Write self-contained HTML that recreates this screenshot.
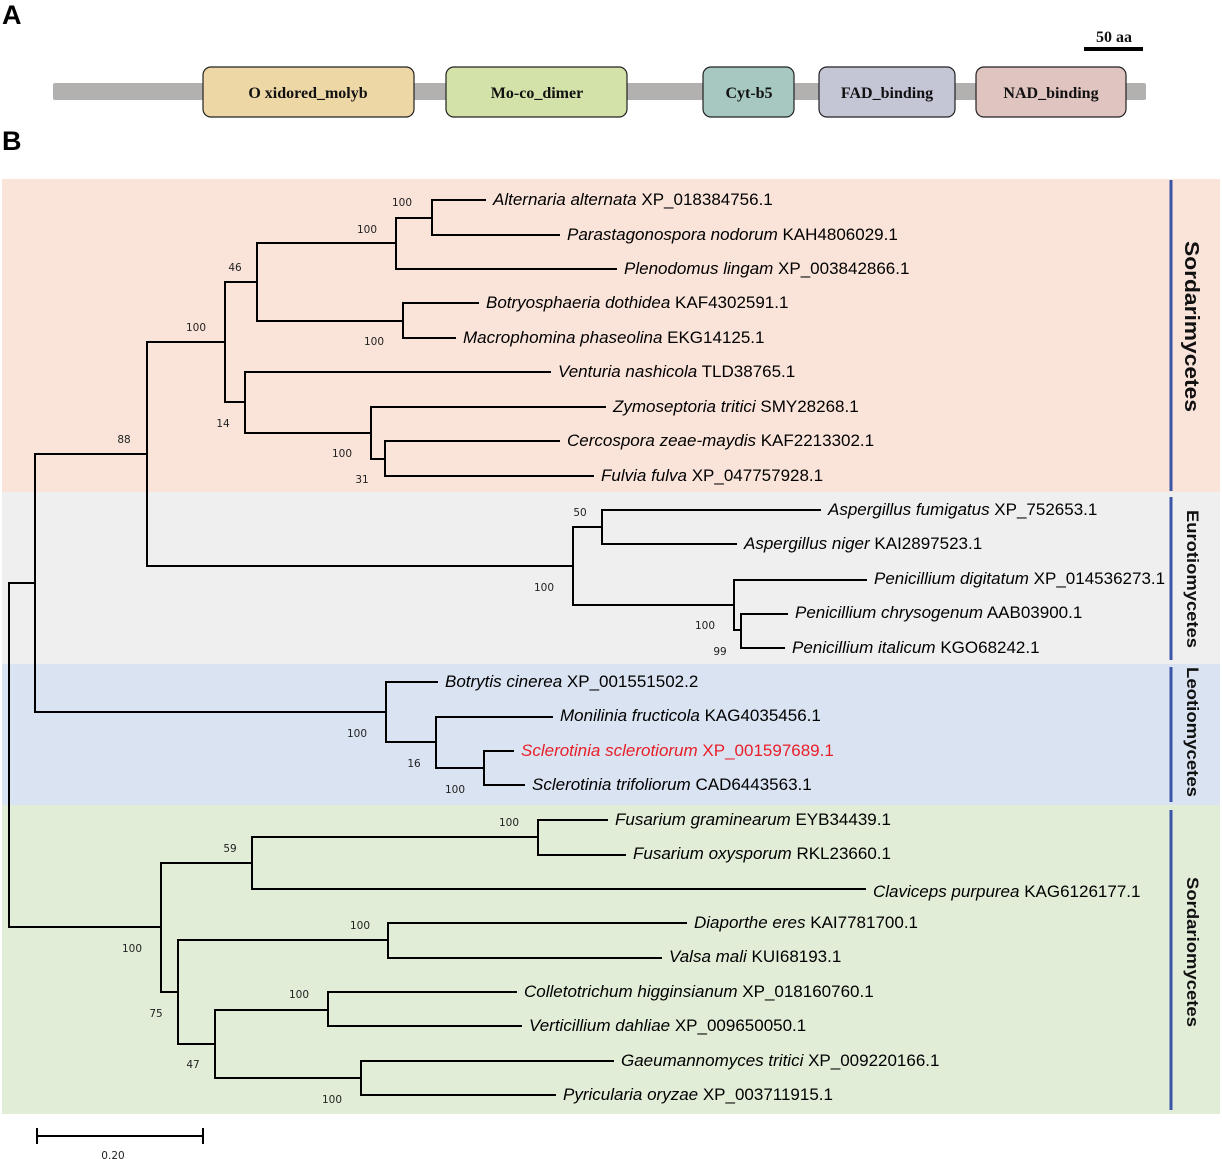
<!DOCTYPE html>
<html><head><meta charset="utf-8"><style>
html,body{margin:0;padding:0;background:#fff;}
svg{display:block;}
.lf{font-family:"Liberation Sans",sans-serif;font-size:17px;fill:#000;}
.bs{font-family:"DejaVu Sans","Liberation Sans",sans-serif;font-size:10.5px;fill:#222;}
.dm{font-family:"Liberation Serif",serif;font-weight:bold;font-size:16px;fill:#111;}
.cl{font-family:"Liberation Sans",sans-serif;font-weight:bold;fill:#111;}
</style></head><body>
<svg width="1222" height="1159" viewBox="0 0 1222 1159" xmlns="http://www.w3.org/2000/svg">
<text x="2" y="24" font-family="Liberation Sans" font-weight="bold" font-size="27">A</text>
<text x="2" y="150" font-family="Liberation Sans" font-weight="bold" font-size="27">B</text>
<rect x="53" y="83" width="1093" height="17" rx="2" fill="#b3b0b0"/>
<rect x="203" y="67" width="211" height="50" rx="8" fill="#edd7a5" stroke="#222" stroke-width="1.2"/>
<rect x="446" y="67" width="181" height="50" rx="8" fill="#d3e2a8" stroke="#222" stroke-width="1.2"/>
<rect x="703" y="67" width="91" height="50" rx="8" fill="#a6c8c0" stroke="#222" stroke-width="1.2"/>
<rect x="819" y="67" width="136" height="50" rx="8" fill="#c4c6d6" stroke="#222" stroke-width="1.2"/>
<rect x="976" y="67" width="150" height="50" rx="8" fill="#e0c4c0" stroke="#222" stroke-width="1.2"/>
<text class="dm" x="308" y="98" text-anchor="middle">O xidored_molyb</text>
<text class="dm" x="537" y="98" text-anchor="middle">Mo-co_dimer</text>
<text class="dm" x="749" y="98" text-anchor="middle">Cyt-b5</text>
<text class="dm" x="887" y="98" text-anchor="middle">FAD_binding</text>
<text class="dm" x="1051" y="98" text-anchor="middle">NAD_binding</text>
<rect x="1084" y="47" width="59" height="4" fill="#000"/>
<text class="dm" x="1114" y="42" text-anchor="middle" font-size="15">50 aa</text>
<rect x="2" y="179" width="1218" height="313" fill="#fae4da"/>
<rect x="2" y="492" width="1218" height="172" fill="#efefef"/>
<rect x="2" y="664" width="1218" height="141" fill="#dae3f1"/>
<rect x="2" y="805" width="1218" height="309" fill="#e2edd8"/>
<g stroke="#3a55a8" stroke-width="3">
<line x1="1171" y1="180" x2="1171" y2="491"/>
<line x1="1171" y1="497" x2="1171" y2="660"/>
<line x1="1171" y1="667" x2="1171" y2="802"/>
<line x1="1171" y1="810" x2="1171" y2="1110"/>
</g>
<text class="cl" font-size="20" transform="translate(1185,241) rotate(90)" textLength="171" lengthAdjust="spacingAndGlyphs">Sordarimycetes</text>
<text class="cl" font-size="17" transform="translate(1187,510) rotate(90)" textLength="138" lengthAdjust="spacingAndGlyphs">Eurotiomycetes</text>
<text class="cl" font-size="17" transform="translate(1187,667) rotate(90)" textLength="130" lengthAdjust="spacingAndGlyphs">Leotiomycetes</text>
<text class="cl" font-size="17" transform="translate(1187,877) rotate(90)" textLength="150" lengthAdjust="spacingAndGlyphs">Sordariomycetes</text>
<g stroke="#000" stroke-width="2" fill="none" stroke-linecap="square">
<path d="M9 583V927M9 583H35M35 454V712M35 454H147M147 342V566M147 342H225M225 282V402M225 282H257M257 243V321M257 243H396M396 218V269M396 218H432M432 200V235M432 200H485M432 235H559M396 269H616M257 321H403M403 303V338M403 303H478M403 338H455M225 402H245M245 372V433M245 372H550M245 433H371M371 407V459M371 407H605M371 459H385M385 441V476M385 441H559M385 476H593"/>
<path d="M147 566H573M573 527V605M573 527H602M602 510V544M602 510H820M602 544H736M573 605H734M734 580V630M734 580H866M734 630H741M741 614V648M741 614H787M741 648H784"/>
<path d="M35 712H386M386 682V742M386 682H437M386 742H436M436 717V768M436 717H552M436 768H484M484 751V785M484 751H513M484 785H524"/>
<path d="M9 927H161M161 863V992M161 863H252M252 837V889M252 837H538M538 820V855M538 820H607M538 855H625M252 889H865M161 992H178M178 940V1044M178 940H388M388 923V958M388 923H686M388 958H661M178 1044H215M215 1010V1078M215 1010H328M328 992V1026M328 992H516M328 1026H521M215 1078H361M361 1061V1095M361 1061H613M361 1095H555"/>
<path d="M37 1136H203M37 1129V1143M203 1129V1143"/>
</g>
<text class="bs" x="113" y="1159" text-anchor="middle">0.20</text>
<g class="bs" text-anchor="middle">
<text x="402" y="206">100</text><text x="367" y="233">100</text><text x="235" y="271">46</text>
<text x="196" y="331">100</text><text x="374" y="345">100</text><text x="223" y="427">14</text>
<text x="342" y="457">100</text><text x="362" y="483">31</text><text x="124" y="443">88</text>
<text x="580" y="516">50</text><text x="544" y="591">100</text><text x="705" y="629">100</text>
<text x="720" y="655">99</text><text x="357" y="737">100</text><text x="414" y="767">16</text>
<text x="455" y="793">100</text><text x="509" y="826">100</text><text x="230" y="852">59</text>
<text x="132" y="952">100</text><text x="360" y="929">100</text><text x="156" y="1017">75</text>
<text x="299" y="998">100</text><text x="193" y="1068">47</text><text x="332" y="1103">100</text>
</g>
<g class="lf">
<text x="493" y="205"><tspan font-style="italic">Alternaria alternata</tspan> XP_018384756.1</text>
<text x="567" y="240"><tspan font-style="italic">Parastagonospora nodorum</tspan> KAH4806029.1</text>
<text x="624" y="274"><tspan font-style="italic">Plenodomus lingam</tspan> XP_003842866.1</text>
<text x="486" y="308"><tspan font-style="italic">Botryosphaeria dothidea</tspan> KAF4302591.1</text>
<text x="463" y="343"><tspan font-style="italic">Macrophomina phaseolina</tspan> EKG14125.1</text>
<text x="558" y="377"><tspan font-style="italic">Venturia nashicola</tspan> TLD38765.1</text>
<text x="613" y="412"><tspan font-style="italic">Zymoseptoria tritici</tspan> SMY28268.1</text>
<text x="567" y="446"><tspan font-style="italic">Cercospora zeae-maydis</tspan> KAF2213302.1</text>
<text x="601" y="481"><tspan font-style="italic">Fulvia fulva</tspan> XP_047757928.1</text>
<text x="828" y="515"><tspan font-style="italic">Aspergillus fumigatus</tspan> XP_752653.1</text>
<text x="744" y="549"><tspan font-style="italic">Aspergillus niger</tspan> KAI2897523.1</text>
<text x="874" y="584"><tspan font-style="italic">Penicillium digitatum</tspan> XP_014536273.1</text>
<text x="795" y="618"><tspan font-style="italic">Penicillium chrysogenum</tspan> AAB03900.1</text>
<text x="792" y="653"><tspan font-style="italic">Penicillium italicum</tspan> KGO68242.1</text>
<text x="445" y="687"><tspan font-style="italic">Botrytis cinerea</tspan> XP_001551502.2</text>
<text x="560" y="721"><tspan font-style="italic">Monilinia fructicola</tspan> KAG4035456.1</text>
<text x="521" y="756" style="fill:#e8202a"><tspan font-style="italic">Sclerotinia sclerotiorum</tspan> XP_001597689.1</text>
<text x="532" y="790"><tspan font-style="italic">Sclerotinia trifoliorum</tspan> CAD6443563.1</text>
<text x="615" y="825"><tspan font-style="italic">Fusarium graminearum</tspan> EYB34439.1</text>
<text x="633" y="859"><tspan font-style="italic">Fusarium oxysporum</tspan> RKL23660.1</text>
<text x="873" y="897"><tspan font-style="italic">Claviceps purpurea</tspan> KAG6126177.1</text>
<text x="694" y="928"><tspan font-style="italic">Diaporthe eres</tspan> KAI7781700.1</text>
<text x="669" y="962"><tspan font-style="italic">Valsa mali</tspan> KUI68193.1</text>
<text x="524" y="997"><tspan font-style="italic">Colletotrichum higginsianum</tspan> XP_018160760.1</text>
<text x="529" y="1031"><tspan font-style="italic">Verticillium dahliae</tspan> XP_009650050.1</text>
<text x="621" y="1066"><tspan font-style="italic">Gaeumannomyces tritici</tspan> XP_009220166.1</text>
<text x="563" y="1100"><tspan font-style="italic">Pyricularia oryzae</tspan> XP_003711915.1</text>
</g>
</svg>
</body></html>
